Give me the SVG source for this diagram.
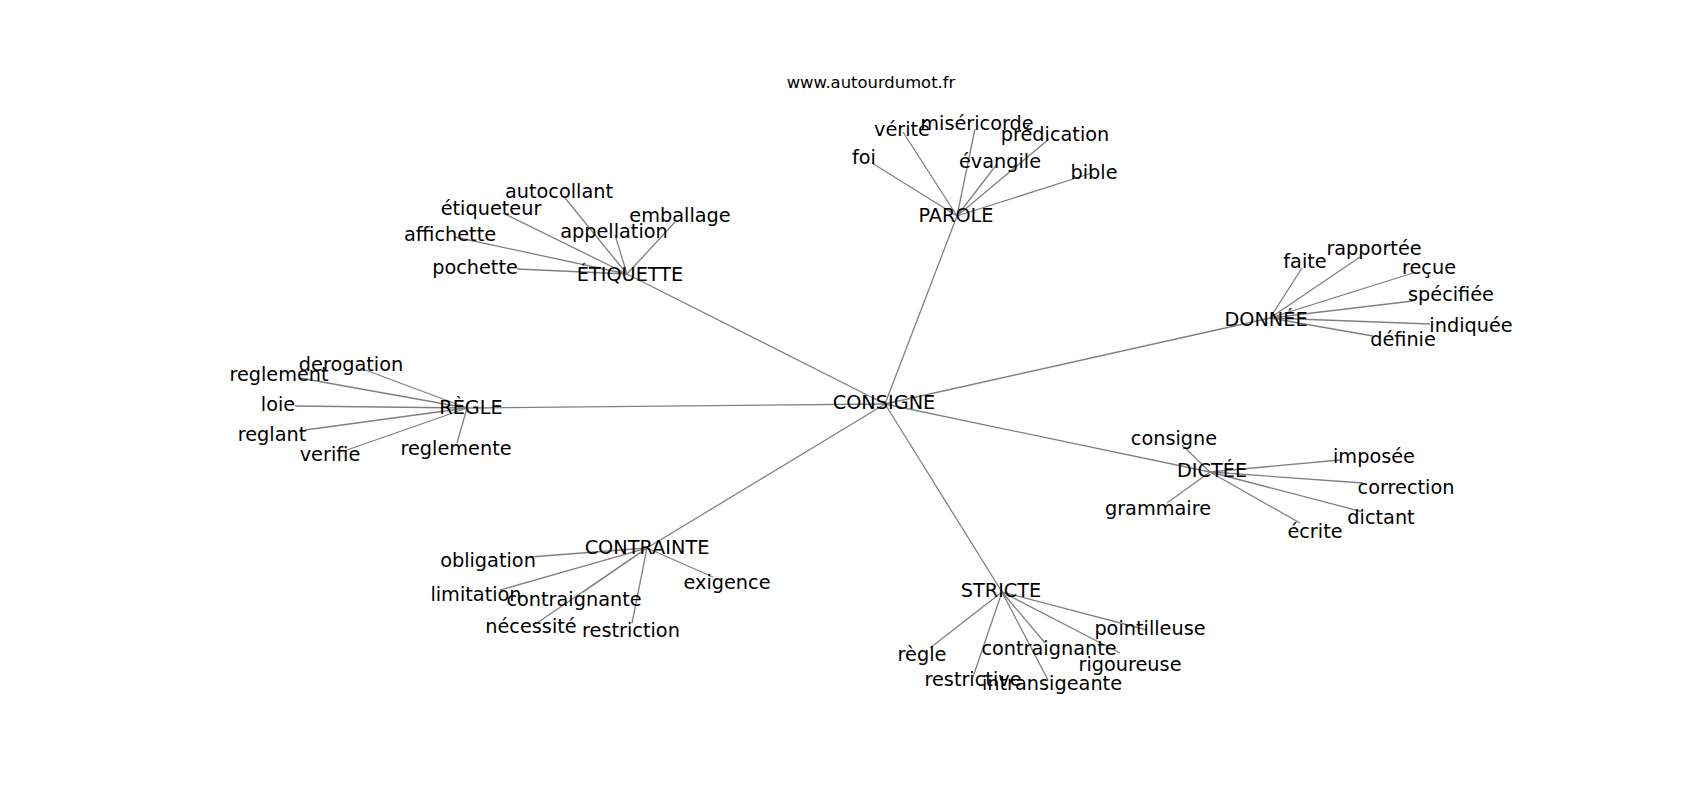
<svg xmlns="http://www.w3.org/2000/svg" width="1700" height="800" viewBox="0 0 1700 800">
<style>
.e{stroke:#808080;stroke-width:1.3;fill:none}
text{font-family:"DejaVu Sans","Liberation Sans",sans-serif;font-size:19.3px;fill:#000;text-anchor:middle}
.t{font-size:16.4px}
</style>
<rect width="1700" height="800" fill="#fff"/>
<g id="connectors">
<line class="e" x1="885" y1="404" x2="957" y2="216"/>
<line class="e" x1="885" y1="404" x2="627" y2="274"/>
<line class="e" x1="885" y1="404" x2="1270" y2="318"/>
<line class="e" x1="885" y1="404" x2="467" y2="408"/>
<line class="e" x1="885" y1="404" x2="1210" y2="472"/>
<line class="e" x1="885" y1="404" x2="647" y2="548"/>
<line class="e" x1="885" y1="404" x2="1002" y2="592"/>
<line class="e" x1="957" y1="216" x2="872" y2="163"/>
<line class="e" x1="957" y1="216" x2="903" y2="132"/>
<line class="e" x1="957" y1="216" x2="975" y2="129"/>
<line class="e" x1="957" y1="216" x2="1049" y2="139"/>
<line class="e" x1="957" y1="216" x2="997" y2="164"/>
<line class="e" x1="957" y1="216" x2="1092" y2="173"/>
<line class="e" x1="627" y1="274" x2="565" y2="198"/>
<line class="e" x1="627" y1="274" x2="503" y2="213"/>
<line class="e" x1="627" y1="274" x2="675" y2="222"/>
<line class="e" x1="627" y1="274" x2="615" y2="235"/>
<line class="e" x1="627" y1="274" x2="455" y2="237"/>
<line class="e" x1="627" y1="274" x2="517" y2="269"/>
<line class="e" x1="1270" y1="318" x2="1302" y2="268"/>
<line class="e" x1="1270" y1="318" x2="1360" y2="257"/>
<line class="e" x1="1270" y1="318" x2="1413" y2="273"/>
<line class="e" x1="1270" y1="318" x2="1413" y2="301"/>
<line class="e" x1="1270" y1="318" x2="1430" y2="324"/>
<line class="e" x1="1270" y1="318" x2="1373" y2="336"/>
<line class="e" x1="467" y1="408" x2="360" y2="368"/>
<line class="e" x1="467" y1="408" x2="300" y2="378"/>
<line class="e" x1="467" y1="408" x2="295" y2="406"/>
<line class="e" x1="467" y1="408" x2="305" y2="430"/>
<line class="e" x1="467" y1="408" x2="347" y2="450"/>
<line class="e" x1="467" y1="408" x2="457" y2="443"/>
<line class="e" x1="1210" y1="472" x2="1182" y2="445"/>
<line class="e" x1="1210" y1="472" x2="1340" y2="460"/>
<line class="e" x1="1210" y1="472" x2="1363" y2="483"/>
<line class="e" x1="1210" y1="472" x2="1363" y2="512"/>
<line class="e" x1="1210" y1="472" x2="1300" y2="523"/>
<line class="e" x1="1210" y1="472" x2="1167" y2="503"/>
<line class="e" x1="647" y1="548" x2="530" y2="557"/>
<line class="e" x1="647" y1="548" x2="500" y2="590"/>
<line class="e" x1="647" y1="548" x2="583" y2="592"/>
<line class="e" x1="647" y1="548" x2="537" y2="623"/>
<line class="e" x1="647" y1="548" x2="632" y2="623"/>
<line class="e" x1="647" y1="548" x2="713" y2="577"/>
<line class="e" x1="1002" y1="592" x2="1147" y2="630"/>
<line class="e" x1="1002" y1="592" x2="1045" y2="643"/>
<line class="e" x1="1002" y1="592" x2="1120" y2="653"/>
<line class="e" x1="1002" y1="592" x2="930" y2="648"/>
<line class="e" x1="1002" y1="592" x2="973" y2="677"/>
<line class="e" x1="1002" y1="592" x2="1048" y2="680"/>
</g>
<text class="t" x="871" y="88">www.autourdumot.fr</text>
<g id="consigne"><text x="884" y="409">CONSIGNE</text></g>
<g id="parole"><text x="956" y="222">PAROLE</text></g>
<g id="etiquette"><text x="630" y="281">ÉTIQUETTE</text></g>
<g id="donnee"><text x="1266" y="326">DONNÉE</text></g>
<g id="regle"><text x="471" y="414">RÈGLE</text></g>
<g id="dictee"><text x="1212" y="477">DICTÉE</text></g>
<g id="contrainte"><text x="647" y="554">CONTRAINTE</text></g>
<g id="stricte"><text x="1001" y="597">STRICTE</text></g>
<g id="parole-leaves">
<text x="864" y="164">foi</text>
<text x="902" y="136">vérité</text>
<text x="977" y="130">miséricorde</text>
<text x="1055" y="141">prédication</text>
<text x="1000" y="168">évangile</text>
<text x="1094" y="179">bible</text>
</g>
<g id="etiquette-leaves">
<text x="559" y="198">autocollant</text>
<text x="491" y="215">étiqueteur</text>
<text x="680" y="222">emballage</text>
<text x="614" y="238">appellation</text>
<text x="450" y="241">affichette</text>
<text x="475" y="274">pochette</text>
</g>
<g id="donnee-leaves">
<text x="1305" y="268">faite</text>
<text x="1374" y="255">rapportée</text>
<text x="1429" y="274">reçue</text>
<text x="1451" y="301">spécifiée</text>
<text x="1471" y="332">indiquée</text>
<text x="1403" y="346">définie</text>
</g>
<g id="regle-leaves">
<text x="351" y="371">derogation</text>
<text x="279" y="381">reglement</text>
<text x="278" y="411">loie</text>
<text x="272" y="441">reglant</text>
<text x="330" y="461">verifie</text>
<text x="456" y="455">reglemente</text>
</g>
<g id="dictee-leaves">
<text x="1174" y="445">consigne</text>
<text x="1374" y="463">imposée</text>
<text x="1406" y="494">correction</text>
<text x="1381" y="524">dictant</text>
<text x="1315" y="538">écrite</text>
<text x="1158" y="515">grammaire</text>
</g>
<g id="contrainte-leaves">
<text x="488" y="567">obligation</text>
<text x="476" y="601">limitation</text>
<text x="574" y="606">contraignante</text>
<text x="531" y="633">nécessité</text>
<text x="631" y="637">restriction</text>
<text x="727" y="589">exigence</text>
</g>
<g id="stricte-leaves">
<text x="1150" y="635">pointilleuse</text>
<text x="1049" y="655">contraignante</text>
<text x="1130" y="671">rigoureuse</text>
<text x="922" y="661">règle</text>
<text x="973" y="686">restrictive</text>
<text x="1052" y="690">intransigeante</text>
</g>
</svg>
